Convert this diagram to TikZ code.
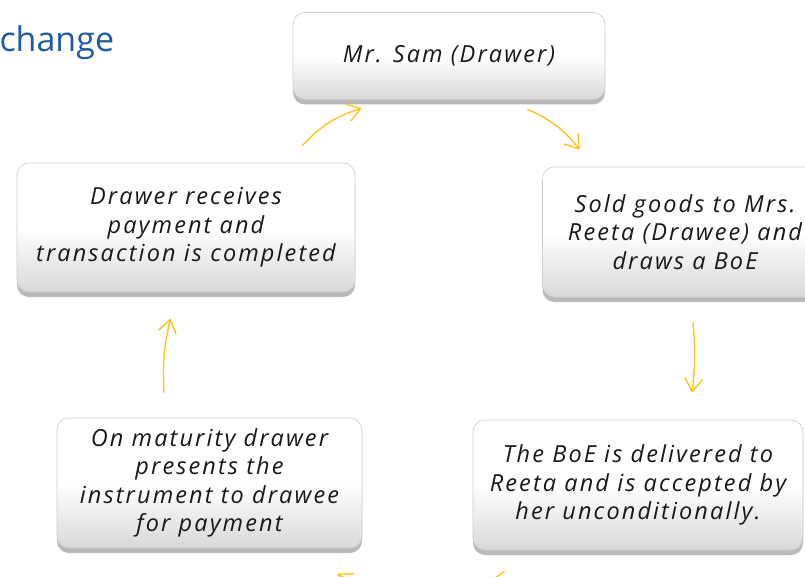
\documentclass[tikz,border=0pt]{standalone}
\usepackage{fontspec}
\setmainfont{Open Sans}
\newfontfamily\boxfont[LetterSpace=9]{Open Sans}
\usetikzlibrary{arrows.meta,shadows,calc}
\definecolor{titleblue}{RGB}{31,90,165}
\definecolor{arrowgold}{RGB}{255,196,30}
\definecolor{boxline}{RGB}{205,205,205}

\begin{document}
\begin{tikzpicture}[x=1pt,y=-1pt,
    stepbox/.style={draw=boxline, line width=0.6pt, rounded corners=12pt,
        top color=white, bottom color=black!15, middle color=white,
        drop shadow={shadow xshift=0pt, shadow yshift=-5pt, fill=black!45, opacity=0.6},
        inner sep=0pt, align=center, text=black!90,
        font=\boxfont\itshape\fontsize{23.5}{28.5}\selectfont},
    flow/.style={arrowgold, line width=1.4pt,
        -{Straight Barb[length=13pt,width=18pt,line width=1.4pt]}}]
    \useasboundingbox (0,0) rectangle (805,577);
    % Title
    \node[anchor=base west, text=titleblue, font=\fontsize{34}{40}\selectfont] (title) at (-4,52) {change};
    % Boxes
    \node[stepbox, minimum width=312pt, minimum height=87pt] (sam) at (449,56) {Mr. Sam (Drawer)};
    \node[stepbox, minimum width=285pt, minimum height=130pt] (sold) at (685,232) {Sold goods to Mrs.\\ Reeta (Drawee) and\\ draws a BoE};
    \node[stepbox, minimum width=330pt, minimum height=130pt] (boe) at (638,485) {The BoE is delivered to\\ Reeta and is accepted by\\ her unconditionally.};
    \node[stepbox, minimum width=305pt, minimum height=130pt] (maturity) at (209.5,483) {On maturity drawer\\ presents the\\ instrument to drawee\\ for payment};
    \node[stepbox, minimum width=338pt, minimum height=129pt] (drawer) at (186,227.5) {Drawer receives\\ payment and\\ transaction is completed};
    % Arrows
    \draw[flow] ($(sam.south east)+(-78,9.5)$) to[bend left=14] ($(sold.north west)+(37.5,-17)$);
    \draw[flow] ($(sold.south)+(8,25)$) to[bend left=6] ($(boe.north)+(54,-27)$);
    \draw[flow] ($(boe.south west)+(32,21)$) to[bend left=35] ($(maturity.south east)+(-25,25)$);
    \draw[flow] ($(maturity.north)+(-45.5,-25)$) to[bend left=8] ($(drawer.south)+(-15.5,26)$);
    \draw[flow] ($(drawer.north east)+(-53,-17)$) to[bend left=15] ($(sam.south west)+(69,8.5)$);
\end{tikzpicture}
\end{document}
